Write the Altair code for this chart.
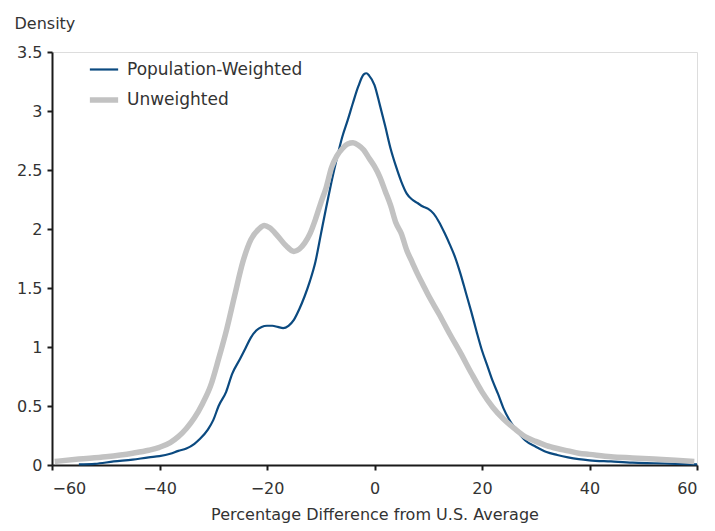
import altair as alt
import pandas as pd

# Population-weighted density curve
pw_x = [-55, -52, -48.5, -45, -42, -40, -38, -36.5, -35, -33.5, -32.5, -31, -30, -29,
        -27.6, -26.5, -25, -24, -23, -22, -21, -20, -19, -18, -17, -16, -15, -14, -13,
        -12, -11, -10, -9, -8, -7, -6, -5, -4, -3, -2, -1.5, -1, 0, 1, 2, 3, 4, 5, 6, 7,
        8, 9, 10, 11, 12, 13, 14, 15, 16, 17, 18, 19, 20, 21, 22, 23, 24, 25, 26, 28, 30,
        32, 34, 36, 38, 40, 44, 48, 52, 56, 60]
pw_y = [0.005, 0.01, 0.03, 0.045, 0.065, 0.075, 0.095, 0.12, 0.14, 0.18, 0.22, 0.30, 0.38, 0.50,
        0.62, 0.77, 0.90, 0.99, 1.08, 1.14, 1.17, 1.18, 1.18, 1.17, 1.16, 1.18, 1.23, 1.32, 1.43,
        1.56, 1.72, 1.95, 2.18, 2.40, 2.60, 2.78, 2.92, 3.07, 3.21, 3.31, 3.32, 3.30, 3.22, 3.05, 2.87, 2.68, 2.53, 2.40, 2.30, 2.25,
        2.22, 2.19, 2.17, 2.13, 2.06, 1.97, 1.87, 1.76, 1.62, 1.46, 1.30, 1.13, 0.97, 0.84, 0.71, 0.60, 0.48, 0.39, 0.32, 0.21, 0.155,
        0.11, 0.085, 0.065, 0.05, 0.04, 0.03, 0.02, 0.015, 0.01, 0.005]

# Unweighted density curve
uw_x = [-59.5, -55, -50, -45, -42, -40, -38, -36.5, -35, -33.5, -32, -30.5, -29, -27.5, -26,
        -24.5, -23, -21.5, -20.5, -19.5, -18, -16.5, -15, -14, -13, -12, -11, -10, -9, -8,
        -7, -6, -5, -4, -3, -2, -1, 0, 1, 2, 3, 4, 5, 6, 7, 8, 9, 10, 12, 14, 16, 18, 20,
        22, 24, 26, 28, 30, 32, 34, 36, 38, 40, 44, 48, 52, 56, 59.5]
uw_y = [0.03, 0.05, 0.07, 0.10, 0.125, 0.15, 0.19, 0.24, 0.31, 0.40, 0.52, 0.67, 0.90, 1.15, 1.44,
        1.72, 1.91, 2.00, 2.03, 2.01, 1.94, 1.86, 1.81, 1.83, 1.88, 1.96, 2.08, 2.22, 2.35, 2.52,
        2.62, 2.68, 2.72, 2.73, 2.71, 2.67, 2.60, 2.53, 2.44, 2.32, 2.20, 2.05, 1.96, 1.82, 1.72, 1.62, 1.53, 1.44, 1.28, 1.11, 0.95, 0.78, 0.62,
        0.49, 0.39, 0.31, 0.24, 0.20, 0.165, 0.14, 0.12, 0.10, 0.09, 0.07, 0.06, 0.05, 0.04, 0.03]

x_ticks = [-60, -40, -20, 0, 20, 40, 60]
y_ticks = [0, 0.5, 1, 1.5, 2, 2.5, 3, 3.5]

series_names = ["Population-Weighted", "Unweighted"]
series_colors = ["#0b4a80", "#c2c2c2"]
series_widths = [2.2, 5.5]

df_pw = pd.DataFrame({"x": pw_x, "y": pw_y, "series": series_names[0]})
df_uw = pd.DataFrame({"x": uw_x, "y": uw_y, "series": series_names[1]})

FONT = "DejaVu Sans"

color = alt.Color("series:N", title=None,
                  scale=alt.Scale(domain=series_names, range=series_colors),
                  legend=alt.Legend(orient="none", legendX=35, legendY=2,
                                    symbolType="stroke", symbolSize=800,
                                    labelFontSize=17, labelFont=FONT, labelColor="#333333",
                                    labelLimit=0, rowPadding=5, labelOffset=6))
width = alt.StrokeWidth("series:N", title=None,
                        scale=alt.Scale(domain=series_names, range=series_widths),
                        legend=None)

x = alt.X("x:Q", scale=alt.Scale(domain=[-60, 60], nice=False),
          axis=alt.Axis(values=x_ticks, format="d", title="Percentage Difference from U.S. Average",
                        titleFont=FONT, titleFontSize=16, titleFontWeight="normal", titleColor="#333333",
                        titleY=49, titleBaseline="middle",
                        labelFont=FONT, labelFontSize=16, labelColor="#333333", labelPadding=10,
                        tickSize=5, tickColor="#1a1a1a", tickWidth=2,
                        domainColor="#1a1a1a", domainWidth=2, grid=False))
y = alt.Y("y:Q", scale=alt.Scale(domain=[0, 3.5], nice=False),
          axis=alt.Axis(values=y_ticks, format="~g", title="Density",
                        titleAngle=0, titleX=-38, titleY=-24, titleAlign="left",
                        titleBaseline="alphabetic",
                        titleFont=FONT, titleFontSize=16, titleFontWeight="normal", titleColor="#333333",
                        labelFont=FONT, labelFontSize=16, labelColor="#333333", labelPadding=5,
                        tickSize=5, tickColor="#1a1a1a", tickWidth=2,
                        domainColor="#1a1a1a", domainWidth=2, grid=False))

blue = alt.Chart(df_pw).mark_line(interpolate="monotone").encode(x=x, y=y, color=color, strokeWidth=width)
gray = alt.Chart(df_uw).mark_line(interpolate="monotone").encode(x=x, y=y, color=color, strokeWidth=width)

chart = alt.layer(blue, gray).properties(
    width=645, height=413,
    autosize=alt.AutoSizeParams(type="none"),
    padding={"left": 44, "top": 44, "right": 10, "bottom": 58},
).configure_view(strokeWidth=0, stroke="transparent").configure(background="white")

chart.save("out.html", embed_options={"renderer": "svg", "actions": False})
